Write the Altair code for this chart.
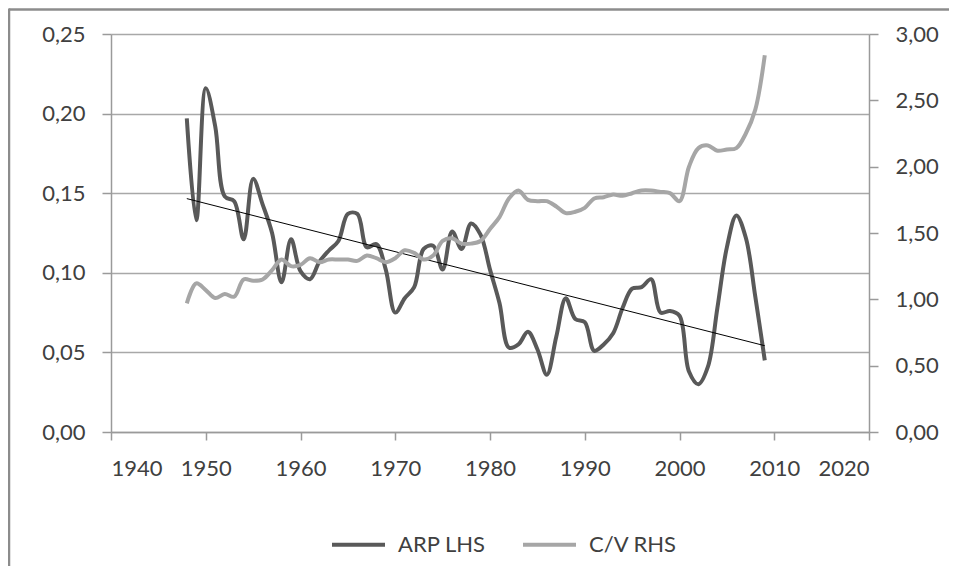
import altair as alt
import pandas as pd

years = [1948, 1949, 1950, 1951, 1952, 1953, 1954, 1955, 1956, 1957,
         1958, 1959, 1960, 1961, 1962, 1963, 1964, 1965, 1966, 1967,
         1968, 1969, 1970, 1971, 1972, 1973, 1974, 1975, 1976, 1977,
         1978, 1979, 1980, 1981, 1982, 1983, 1984, 1985, 1986, 1987,
         1988, 1989, 1990, 1991, 1992, 1993, 1994, 1995, 1996, 1997,
         1998, 1999, 2000, 2001, 2002, 2003, 2004, 2005, 2006, 2007,
         2008, 2009]

arp = [0.197, 0.133, 0.216, 0.192, 0.148, 0.145, 0.121, 0.159, 0.143, 0.125,
       0.094, 0.121, 0.101, 0.096, 0.107, 0.114, 0.120, 0.137, 0.137, 0.116,
       0.118, 0.102, 0.075, 0.084, 0.091, 0.115, 0.117, 0.102, 0.126, 0.115,
       0.131, 0.124, 0.102, 0.081, 0.053, 0.055, 0.063, 0.052, 0.036, 0.060,
       0.084, 0.071, 0.069, 0.051, 0.055, 0.062, 0.078, 0.090, 0.091, 0.096,
       0.075, 0.076, 0.073, 0.038, 0.030, 0.041, 0.078, 0.116, 0.136, 0.122,
       0.085, 0.045]

cv = [0.97, 1.12, 1.07, 1.01, 1.04, 1.02, 1.15, 1.14, 1.15, 1.22,
      1.30, 1.25, 1.26, 1.31, 1.28, 1.30, 1.30, 1.30, 1.29, 1.33,
      1.31, 1.28, 1.31, 1.37, 1.35, 1.30, 1.33, 1.44, 1.46, 1.42,
      1.42, 1.44, 1.53, 1.62, 1.76, 1.82, 1.75, 1.74, 1.74, 1.70,
      1.65, 1.66, 1.69, 1.76, 1.77, 1.79, 1.78, 1.80, 1.82, 1.82,
      1.81, 1.80, 1.74, 2.00, 2.14, 2.16, 2.12, 2.13, 2.14, 2.25,
      2.43, 2.84]

trend_years = [1948, 2009]
trend_vals = [0.1466, 0.0542]

series_names = ["ARP LHS", "C/V RHS"]
series_colors = ["#595959", "#a6a6a6"]

x_ticks = [1940, 1950, 1960, 1970, 1980, 1990, 2000, 2010, 2020]
left_ticks = [0.0, 0.05, 0.10, 0.15, 0.20, 0.25]
right_ticks = [0.0, 0.5, 1.0, 1.5, 2.0, 2.5, 3.0]

FONT = "Lato"
TXT = "#404040"
GRID = "#a8a8a8"
AXIS = "#9a9a9a"
comma = "replace(format(datum.value, '.2f'), '.', ',')"

df = pd.DataFrame({"year": years, "arp": arp, "cv": cv})
df_trend = pd.DataFrame({"year": trend_years, "arp": trend_vals})

x_enc = alt.X(
    "year:Q",
    scale=alt.Scale(domain=[1940, 2020], nice=False, zero=False),
    axis=alt.Axis(values=x_ticks, format="d", title=None, grid=False,
                  tickSize=8, labelPadding=18),
)

y_left = alt.Y(
    "arp:Q",
    scale=alt.Scale(domain=[0, 0.25], nice=False),
    axis=alt.Axis(values=left_ticks, labelExpr=comma, title=None, grid=True,
                  gridColor=GRID, gridWidth=1.5, tickSize=9, labelPadding=17,
                  orient="left"),
)

color = alt.Color(
    "series:N",
    scale=alt.Scale(domain=series_names, range=series_colors),
    legend=alt.Legend(title=None, orient="none", legendX=219, legendY=482,
                      direction="horizontal", symbolType="stroke",
                      symbolSize=2809, symbolStrokeWidth=4, labelOffset=11,
                      columnPadding=29, padding=0, labelFontSize=22,
                      labelFont=FONT, labelColor=TXT),
)

arp_line = alt.Chart(df).transform_calculate(series="'ARP LHS'").mark_line(
    strokeWidth=4, interpolate="catmull-rom"
).encode(x=x_enc, y=y_left, color=color)

trend_line = alt.Chart(df_trend).mark_line(color="black", strokeWidth=1).encode(
    x=x_enc, y=y_left
)

left = alt.layer(arp_line, trend_line)

cv_line = alt.Chart(df).transform_calculate(series="'C/V RHS'").mark_line(
    strokeWidth=4, interpolate="catmull-rom"
).encode(
    x=x_enc,
    y=alt.Y("cv:Q", scale=alt.Scale(domain=[0, 3], nice=False),
            axis=alt.Axis(values=right_ticks, labelExpr=comma, title=None,
                          grid=False, tickSize=9, labelPadding=17,
                          orient="right")),
    color=color,
)

frame = pd.DataFrame({"k": [0]})
frame_top = alt.Chart(frame).mark_rule(color="#8c8c8c", strokeWidth=2.5).encode(
    x=alt.value(-102), x2=alt.value(846), y=alt.value(-24.5)
)
frame_left = alt.Chart(frame).mark_rule(color="#8c8c8c", strokeWidth=2.5).encode(
    x=alt.value(-102), y=alt.value(-25.5), y2=alt.value(540)
)

chart = alt.layer(left, cv_line, frame_top, frame_left).resolve_scale(
    y="independent"
).properties(
    width=758, height=398,
    padding={"left": 103, "top": 26, "right": 80, "bottom": 134},
    autosize=alt.AutoSizeParams(type="none"),
    background="white",
).configure_view(stroke=None).configure_axis(
    labelFont=FONT, labelFontSize=22, labelColor=TXT,
    domainColor=AXIS, tickColor=AXIS, domainWidth=1.5, tickWidth=1.5,
)

chart.save("out.html", embed_options={"renderer": "svg", "actions": False})
